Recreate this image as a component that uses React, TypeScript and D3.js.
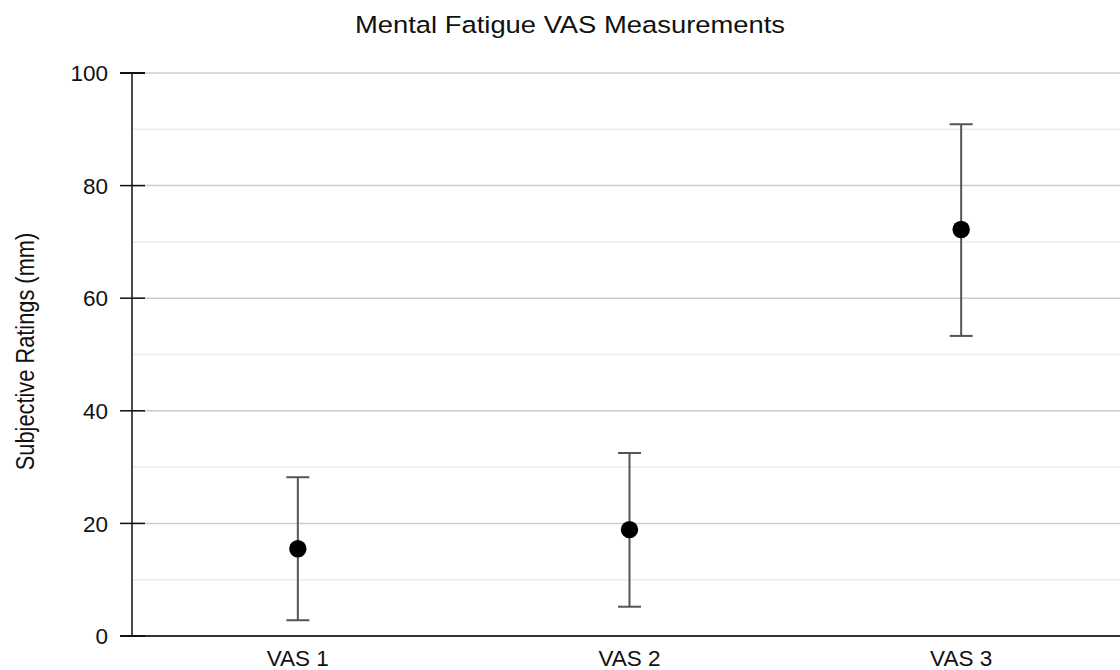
import React from "react";
import * as d3 from "d3";

const categories = ["VAS 1", "VAS 2", "VAS 3"];
const means = [15.5, 18.9, 72.2];
const lowers = [2.8, 5.2, 53.3];
const uppers = [28.2, 32.5, 90.9];
const yTicks = [0, 20, 40, 60, 80, 100];
const minorTicks = [10, 30, 50, 70, 90];

const W = 1120;
const H = 670;
const FONT = "'Liberation Sans', Arial, Helvetica, sans-serif";

export default function App() {
  const x = d3.scaleBand<string>().domain(categories).range([132, 1127]).padding(0);
  const y = d3.scaleLinear().domain([0, 100]).range([636, 73]);
  const cx = (c: string) => (x(c) ?? 0) + x.bandwidth() / 2;
  const capHalf = 11.5;

  return (
    <svg
      width={W}
      height={H}
      style={{ position: "absolute", left: 0, top: 0, background: "#fff" }}
      fontFamily={FONT}
    >
      <text x={570} y={33} textAnchor="middle" fontSize={24.5} fill="#111" textLength={430} lengthAdjust="spacingAndGlyphs">
        Mental Fatigue VAS Measurements
      </text>

      {minorTicks.map((t) => (
        <line key={"m" + t} x1={132} x2={W} y1={y(t)} y2={y(t)} stroke="#ececec" strokeWidth={1.5} />
      ))}
      {yTicks.map((t) => (
        <line key={"g" + t} x1={132} x2={W} y1={y(t)} y2={y(t)} stroke="#cccccc" strokeWidth={1.5} />
      ))}

      <line x1={132} x2={W} y1={y(0)} y2={y(0)} stroke="#333" strokeWidth={2} />
      <line x1={132} x2={132} y1={y(100)} y2={y(0)} stroke="#111" strokeWidth={1.5} />

      {yTicks.map((t) => (
        <g key={"t" + t}>
          <line x1={120} x2={145} y1={y(t)} y2={y(t)} stroke="#111" strokeWidth={t === 0 || t === 100 ? 2 : 1.5} />
          <text x={108} y={y(t)} dy="0.36em" textAnchor="end" fontSize={22.5} fill="#111">
            {t}
          </text>
        </g>
      ))}

      {categories.map((c) => (
        <text key={"x" + c} x={cx(c)} y={666} textAnchor="middle" fontSize={22.5} fill="#111">
          {c}
        </text>
      ))}

      <text
        transform={`translate(34, ${(y(0) + y(100)) / 2 - 3}) scale(1.15,1) rotate(-90)`}
        textAnchor="middle"
        fontSize={21.8}
        fill="#111"
      >
        Subjective Ratings (mm)
      </text>

      {categories.map((c, i) => (
        <g key={"e" + c}>
          <line x1={cx(c)} x2={cx(c)} y1={y(lowers[i])} y2={y(uppers[i])} stroke="#555" strokeWidth={2} />
          <line x1={cx(c) - capHalf} x2={cx(c) + capHalf} y1={y(uppers[i])} y2={y(uppers[i])} stroke="#555" strokeWidth={2} />
          <line x1={cx(c) - capHalf} x2={cx(c) + capHalf} y1={y(lowers[i])} y2={y(lowers[i])} stroke="#555" strokeWidth={2} />
          <circle cx={cx(c)} cy={y(means[i])} r={8.7} fill="#000" />
        </g>
      ))}
    </svg>
  );
}
